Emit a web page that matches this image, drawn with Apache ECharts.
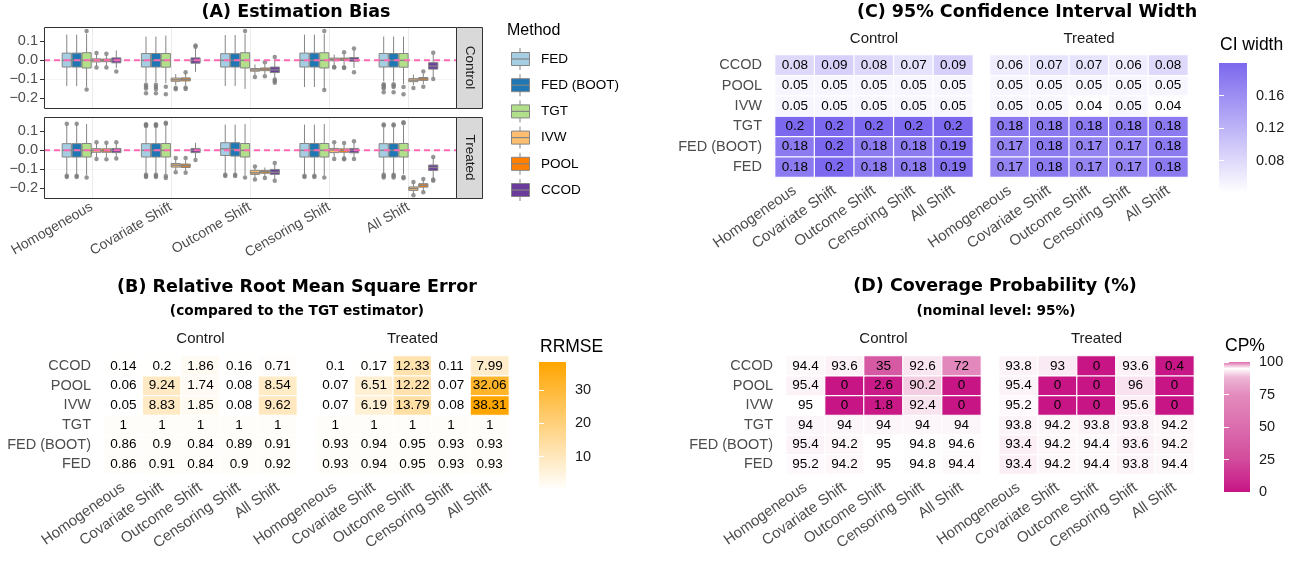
<!DOCTYPE html>
<html><head><meta charset="utf-8">
<script src="https://cdn.jsdelivr.net/npm/echarts@6/dist/echarts.min.js"></script>
<style>html,body{margin:0;padding:0;background:#fff}#c{width:1302px;height:561px}</style>
</head><body><div id="c"></div>
<script>
// ---------------- DATA ----------------
const scenarios = ['Homogeneous','Covariate Shift','Outcome Shift','Censoring Shift','All Shift'];
const methods = ['FED','FED (BOOT)','TGT','IVW','POOL','CCOD'];
const facetNames = ['Control','Treated'];
const biasTicks = [-0.2,-0.1,0,0.1];

// Estimation bias box statistics [whisker low, Q1, median, Q3, whisker high]
// order: scenario by scenario, methods FED, FED (BOOT), TGT, IVW, POOL, CCOD
const biasControl = [
  [-0.135,-0.035,0,0.038,0.135],[-0.135,-0.035,0,0.038,0.135],[-0.14,-0.04,0,0.04,0.14],
  [-0.03,-0.008,0,0.008,0.03],[-0.03,-0.007,0,0.007,0.028],[-0.04,-0.013,0,0.013,0.052],
  [-0.115,-0.035,0,0.036,0.125],[-0.115,-0.035,0,0.036,0.125],[-0.12,-0.036,0,0.036,0.13],
  [-0.13,-0.11,-0.102,-0.093,-0.072],[-0.13,-0.108,-0.1,-0.092,-0.068],[-0.06,-0.015,0,0.013,0.065],
  [-0.135,-0.035,0,0.035,0.133],[-0.135,-0.035,0,0.035,0.133],[-0.15,-0.04,0,0.04,0.14],
  [-0.078,-0.057,-0.05,-0.043,-0.022],[-0.072,-0.054,-0.046,-0.04,-0.02],[-0.092,-0.064,-0.05,-0.035,0.008],
  [-0.14,-0.035,0,0.038,0.135],[-0.14,-0.035,0,0.038,0.135],[-0.15,-0.04,0,0.04,0.14],
  [-0.025,-0.002,0.005,0.012,0.03],[-0.025,-0.001,0.006,0.012,0.035],[-0.04,-0.005,0.005,0.015,0.055],
  [-0.11,-0.035,0,0.036,0.125],[-0.11,-0.035,0,0.036,0.125],[-0.125,-0.036,0,0.036,0.125],
  [-0.13,-0.112,-0.104,-0.096,-0.075],[-0.125,-0.105,-0.097,-0.09,-0.07],[-0.09,-0.046,-0.03,-0.012,0.03]
];
const biasControlOut = [
  [],[],[0.154,-0.153],[0.038,-0.038],[0.034,-0.038],[-0.058],
  [-0.128,-0.137,-0.148,-0.172],[-0.128,-0.14,-0.15,-0.172],[-0.138,-0.178],[-0.144,-0.152],[-0.062,-0.142,-0.15],[0.072,0.078],
  [],[],[0.154],[-0.088],[-0.01,-0.083],[0.018,-0.1,-0.108,-0.118],
  [],[],[0.154,-0.155],[-0.035,-0.038],[0.042,-0.036,-0.04],[0.062,-0.062],
  [-0.125,-0.132,-0.14,-0.148,-0.168],[-0.125,-0.133,-0.14,-0.168],[-0.14,-0.178],[-0.145],[-0.058,-0.138],[0.04,-0.098]
];
const biasTreated = [
  [-0.125,-0.035,0,0.035,0.135],[-0.125,-0.035,0,0.035,0.135],[-0.13,-0.035,0,0.036,0.138],
  [-0.035,-0.01,0,0.009,0.035],[-0.035,-0.01,-0.002,0.008,0.035],[-0.035,-0.012,0,0.01,0.035],
  [-0.12,-0.035,0,0.035,0.12],[-0.12,-0.035,0,0.035,0.12],[-0.125,-0.035,0,0.036,0.13],
  [-0.105,-0.088,-0.078,-0.069,-0.045],[-0.11,-0.09,-0.08,-0.072,-0.05],[-0.04,-0.012,0,0.01,0.04],
  [-0.12,-0.027,0.008,0.04,0.135],[-0.12,-0.03,0.005,0.04,0.135],[-0.13,-0.035,0,0.036,0.138],
  [-0.145,-0.126,-0.118,-0.105,-0.09],[-0.14,-0.12,-0.112,-0.105,-0.09],[-0.15,-0.126,-0.115,-0.1,-0.075],
  [-0.125,-0.035,0,0.036,0.135],[-0.125,-0.035,0,0.036,0.135],[-0.13,-0.035,0,0.036,0.138],
  [-0.035,-0.012,0.002,0.01,0.035],[-0.035,-0.01,0,0.008,0.03],[-0.035,-0.013,0,0.01,0.04],
  [-0.12,-0.035,0,0.035,0.12],[-0.12,-0.035,0,0.035,0.12],[-0.125,-0.035,0,0.036,0.13],
  [-0.23,-0.21,-0.2,-0.192,-0.172],[-0.215,-0.193,-0.183,-0.175,-0.155],[-0.145,-0.106,-0.09,-0.077,-0.04]
];
const biasTreatedOut = [
  [0.14,-0.133,-0.14],[0.14,-0.133,-0.14],[-0.142],[0.043,-0.045],[0.04,-0.047],[0.042,-0.043],
  [0.128,0.133,0.137,-0.128,-0.134,-0.14],[0.128,0.133,0.137,-0.128,-0.134,-0.14],[0.14,0.145,-0.135,-0.145],[-0.04,-0.115],[-0.04,-0.118],[-0.05],
  [-0.128,-0.135],[-0.128,-0.135],[-0.142],[-0.085,-0.153],[-0.145],[-0.067,-0.16],
  [-0.133,-0.14],[-0.133,-0.14],[-0.142],[0.043,-0.045],[0.038,-0.043,-0.047],[0.048,-0.045],
  [0.13,0.135,-0.128,-0.135,-0.143],[0.13,0.135,-0.128,-0.135,-0.143],[0.142,0.148,-0.14,-0.147],[-0.166,-0.236],[-0.15,-0.22],[-0.035,-0.153,-0.16]
];

// Heatmap rows, bottom to top
const heatRows = ['FED','FED (BOOT)','TGT','IVW','POOL','CCOD'];

const rrmseControl = [
  [0.86,0.91,0.84,0.9,0.92],
  [0.86,0.9,0.84,0.89,0.91],
  [1,1,1,1,1],
  [0.05,8.83,1.85,0.08,9.62],
  [0.06,9.24,1.74,0.08,8.54],
  [0.14,0.2,1.86,0.16,0.71]
];
const rrmseTreated = [
  [0.93,0.94,0.95,0.93,0.93],
  [0.93,0.94,0.95,0.93,0.93],
  [1,1,1,1,1],
  [0.07,6.19,13.79,0.08,38.31],
  [0.07,6.51,12.22,0.07,32.06],
  [0.1,0.17,12.33,0.11,7.99]
];
const rrmseTicks = [10,20,30];

const ciControl = [
  [0.18,0.2,0.18,0.18,0.19],
  [0.18,0.2,0.18,0.18,0.19],
  [0.2,0.2,0.2,0.2,0.2],
  [0.05,0.05,0.05,0.05,0.05],
  [0.05,0.05,0.05,0.05,0.05],
  [0.08,0.09,0.08,0.07,0.09]
];
const ciTreated = [
  [0.17,0.18,0.17,0.17,0.18],
  [0.17,0.18,0.17,0.17,0.18],
  [0.18,0.18,0.18,0.18,0.18],
  [0.05,0.05,0.04,0.05,0.04],
  [0.05,0.05,0.05,0.05,0.05],
  [0.06,0.07,0.07,0.06,0.08]
];
const ciTicks = [0.08,0.12,0.16];

const cpControl = [
  [95.2,94.2,95,94.8,94.4],
  [95.4,94.2,95,94.8,94.6],
  [94,94,94,94,94],
  [95,0,1.8,92.4,0],
  [95.4,0,2.6,90.2,0],
  [94.4,93.6,35,92.6,72]
];
const cpTreated = [
  [93.4,94.2,94.4,93.8,94.4],
  [93.4,94.2,94.4,93.6,94.2],
  [93.8,94.2,93.8,93.8,94.2],
  [95.2,0,0,95.6,0],
  [95.4,0,0,96,0],
  [93.8,93,0,93.6,0.4]
];
const cpTicks = [0,25,50,75,100];
const cpLimits = [0,100];

// ---------------- STYLE ----------------
const FONT = '"Liberation Sans", Arial, sans-serif';
const TFONT = '"DejaVu Sans", sans-serif';
const AXC = '#4d4d4d';
const methodColors = ['#A6CEE3','#1F78B4','#B2DF8A','#FDBF6F','#FF7F00','#6A3D9A'];
const BOXSTROKE = '#858585';
const DODGE = 0.125, BOXW = 0.116;

function hex2rgb(h){h=h.replace('#','');return [0,2,4].map(i=>parseInt(h.substr(i,2),16));}
function rgb2hex(c){return '#'+c.map(v=>Math.round(v).toString(16).padStart(2,'0')).join('');}
function rampColor(anchors, v){
  for(let i=0;i<anchors.length-1;i++){
    const [a,ca]=anchors[i],[b,cb]=anchors[i+1];
    if(v<=b){const t=(v-a)/(b-a);const A=hex2rgb(ca),B=hex2rgb(cb);return rgb2hex(A.map((x,k)=>x+(B[k]-x)*t));}
  }
  return anchors[anchors.length-1][1];
}
const cpAnchors = [[0,'#C71585'],[25,'#D24C9C'],[50,'#DB6DAD'],[75,'#E38CBE'],[88,'#EDB6D5'],[95,'#FFFFFF'],[100,'#DD6CAD']];
const cpColors = []; for(let v=cpLimits[0]; v<=cpLimits[1]; v++) cpColors.push(rampColor(cpAnchors, v));

// ---------------- BUILD ----------------
const grids=[], xAxes=[], yAxes=[], series=[], visualMaps=[], graphics=[];
function addGrid(g){grids.push(Object.assign({show:false,containLabel:false},g));return grids.length-1;}
function txt(x,y,text,o){graphics.push({type:'text',x,y,z:50,rotation:o.rot||0,silent:true,style:{text,align:o.align||'center',verticalAlign:'middle',fontSize:o.size,fontWeight:o.weight||'normal',fontFamily:o.font||FONT,fill:o.color||'#000'}});}
const fmtBias = v => Math.abs(v)<1e-9 ? '0.0' : (v<0?'\u2212':'')+Math.abs(v).toFixed(1);

// ---- Panel A ----
const PA = {left:44, width:412, tops:[27,117], h:81};
[[biasControl,biasControlOut],[biasTreated,biasTreatedOut]].forEach(([stats,outs],k)=>{
  const gi = addGrid({left:PA.left, top:PA.tops[k], width:PA.width, height:PA.h});
  const last = k===1;
  const xi = xAxes.push({type:'value',gridIndex:gi,min:0.4,max:5.6,splitLine:{show:false},axisLine:{show:false},
    axisTick: last?{show:true,customValues:[1,2,3,4,5],length:4,lineStyle:{color:'#333'}}:{show:false},
    axisLabel: last?{show:true,customValues:[1,2,3,4,5],formatter:v=>scenarios[Math.round(v)-1],rotate:30,fontSize:14,color:AXC,margin:8}:{show:false}
  })-1;
  const yi = yAxes.push({type:'value',gridIndex:gi,min:-0.25,max:0.175,interval:0.05,axisLine:{show:false},
    splitLine:{show:true,showMinLine:false,showMaxLine:false,lineStyle:{color:['#F4F4F4','#EBEBEB'],width:1}},
    axisTick:{show:true,customValues:biasTicks,length:4,lineStyle:{color:'#333'}},
    axisLabel:{show:true,customValues:biasTicks,formatter:fmtBias,fontSize:14.5,color:AXC,margin:6}
  })-1;
  // vertical grid lines at scenario positions
  series.push({type:'custom',xAxisIndex:xi,yAxisIndex:yi,silent:true,z:1,
    data:scenarios.map((s,i)=>[i+1,0]),
    renderItem:(p,api)=>{const c=api.coord([api.value(0),0]);const cs=p.coordSys;
      return {type:'line',shape:{x1:Math.round(c[0])+0.5,y1:cs.y,x2:Math.round(c[0])+0.5,y2:cs.y+cs.height},style:{stroke:'#EBEBEB',lineWidth:1}};}});
  // boxes
  const boxData = stats.map((r,i)=>{const s=Math.floor(i/methods.length), m=i%methods.length;
    return [s+1+(m-(methods.length-1)/2)*DODGE, r[0],r[1],r[2],r[3],r[4], m];});
  series.push({type:'custom',xAxisIndex:xi,yAxisIndex:yi,silent:true,z:3,data:boxData,
    renderItem:(p,api)=>{
      const x=api.value(0);
      const lo=api.coord([x,api.value(1)]),q1=api.coord([x,api.value(2)]),md=api.coord([x,api.value(3)]),q3=api.coord([x,api.value(4)]),hi=api.coord([x,api.value(5)]);
      const m=api.value(6); const hw=api.size([BOXW,0])[0]/2;
      return {type:'group',children:[
        {type:'line',shape:{x1:hi[0],y1:hi[1],x2:q3[0],y2:q3[1]},style:{stroke:BOXSTROKE,lineWidth:1}},
        {type:'line',shape:{x1:q1[0],y1:q1[1],x2:lo[0],y2:lo[1]},style:{stroke:BOXSTROKE,lineWidth:1}},
        {type:'rect',shape:{x:q3[0]-hw,y:q3[1],width:2*hw,height:Math.max(q1[1]-q3[1],1)},style:{fill:methodColors[m],stroke:BOXSTROKE,lineWidth:1}},
        {type:'line',shape:{x1:md[0]-hw,y1:md[1],x2:md[0]+hw,y2:md[1]},style:{stroke:BOXSTROKE,lineWidth:1.4}}
      ]};
    }});
  // outliers
  const outData=[]; outs.forEach((arr,i)=>{const s=Math.floor(i/methods.length), m=i%methods.length;
    arr.forEach(v=>outData.push([s+1+(m-(methods.length-1)/2)*DODGE, v]));});
  series.push({type:'scatter',xAxisIndex:xi,yAxisIndex:yi,silent:true,z:4,symbol:'circle',symbolSize:4.5,
    itemStyle:{color:'#7a7a7a'},data:outData});
  // zero reference line
  series.push({type:'custom',xAxisIndex:xi,yAxisIndex:yi,silent:true,z:5,data:[[3,0]],
    renderItem:(p,api)=>{const c=api.coord([api.value(0),api.value(1)]);const cs=p.coordSys;
      return {type:'line',shape:{x1:cs.x,y1:c[1],x2:cs.x+cs.width,y2:c[1]},style:{stroke:'#FF69B4',lineWidth:2,lineDash:[6,4]}};}});
  // frame + strip
  graphics.push({type:'rect',z:40,silent:true,shape:{x:PA.left+0.5,y:PA.tops[k]+0.5,width:PA.width,height:PA.h},style:{fill:'none',stroke:'#333',lineWidth:1}});
  graphics.push({type:'rect',z:40,silent:true,shape:{x:PA.left+PA.width+0.5,y:PA.tops[k]+0.5,width:26,height:PA.h},style:{fill:'#D9D9D9',stroke:'#333',lineWidth:1}});
  txt(PA.left+PA.width+14, PA.tops[k]+PA.h/2, facetNames[k], {size:13.5, rot:-Math.PI/2, color:'#1a1a1a'});
});
txt(296,12,'(A) Estimation Bias',{size:17.5,weight:'bold',font:TFONT});
// method legend
txt(507,31,'Method',{size:16,align:'left'});
methods.forEach((m,i)=>{
  const cy = 59+i*26.2;
  graphics.push({type:'line',z:40,silent:true,shape:{x1:520,y1:cy-11,x2:520,y2:cy+11},style:{stroke:BOXSTROKE,lineWidth:1}});
  graphics.push({type:'rect',z:41,silent:true,shape:{x:511.5,y:cy-6.5,width:18,height:13},style:{fill:methodColors[i],stroke:BOXSTROKE,lineWidth:1}});
  graphics.push({type:'line',z:42,silent:true,shape:{x1:511.5,y1:cy,x2:529.5,y2:cy},style:{stroke:BOXSTROKE,lineWidth:1.2}});
  txt(541,cy,m,{size:13.5,align:'left'});
});

// ---- heatmap panels ----
function heatPanel(cfg){
  const idx=[];
  [cfg.control,cfg.treated].forEach((vals,k)=>{
    const gi=addGrid({left:cfg.lefts[k],top:cfg.top,width:cfg.width,height:cfg.height});
    const xi=xAxes.push({type:'category',gridIndex:gi,data:scenarios,axisLine:{show:false},axisTick:{show:false},splitLine:{show:false},
      axisLabel:{rotate:35,fontSize:15,color:AXC,margin:12,interval:0}})-1;
    const yi=yAxes.push({type:'category',gridIndex:gi,data:heatRows,axisLine:{show:false},axisTick:{show:false},splitLine:{show:false},
      axisLabel:{show:k===0,fontSize:14.5,color:AXC,margin:13,interval:0}})-1;
    const data=[]; vals.forEach((row,r)=>row.forEach((v,c)=>data.push([c,r,v])));
    idx.push(series.push({type:'heatmap',xAxisIndex:xi,yAxisIndex:yi,data,silent:true,emphasis:{disabled:true},
      itemStyle:{borderColor:'#fff',borderWidth:1.2},
      label:{show:true,formatter:p=>String(p.value[2]),fontSize:13.5,color:'#000',fontFamily:FONT}})-1);
    txt(cfg.lefts[k]+cfg.width/2, cfg.stripY, facetNames[k], {size:15, color:'#1a1a1a'});
  });
  visualMaps.push({type:'continuous',show:false,seriesIndex:idx,dimension:2,min:cfg.min,max:cfg.max,inRange:{color:cfg.colors}});
  // color bar legend
  const b=cfg.bar;
  const gi=addGrid({left:b.left,top:b.top,width:b.width,height:b.height});
  const xi=xAxes.push({type:'value',gridIndex:gi,min:0,max:1,show:false})-1;
  const tick={show:true,inside:true,length:5,customValues:cfg.ticks,lineStyle:{color:'#fff',width:1}};
  const yR=yAxes.push({type:'value',gridIndex:gi,min:cfg.min,max:cfg.max,position:'right',z:10,axisLine:{show:false},splitLine:{show:false},
    axisTick:tick,axisLabel:{show:true,customValues:cfg.ticks,formatter:cfg.fmt,fontSize:14.5,color:'#1a1a1a',margin:9}})-1;
  yAxes.push({type:'value',gridIndex:gi,min:cfg.min,max:cfg.max,position:'left',z:10,axisLine:{show:false},splitLine:{show:false},
    axisTick:tick,axisLabel:{show:false}});
  const stops=cfg.stops;
  series.push({type:'custom',xAxisIndex:xi,yAxisIndex:yR,silent:true,z:1,data:[[0,cfg.min,cfg.max]],
    renderItem:(p,api)=>{const t=api.coord([0,api.value(2)]),bt=api.coord([1,api.value(1)]);
      return {type:'rect',shape:{x:t[0],y:t[1],width:bt[0]-t[0],height:bt[1]-t[1]},
        style:{fill:new echarts.graphic.LinearGradient(0,1,0,0,stops)}};}});
  txt(b.left+1,b.titleY,cfg.legendTitle,{size:17.5,align:'left'});
}
const flat=a=>a.flat();
const rrAll=flat(rrmseControl).concat(flat(rrmseTreated));
const ciAll=flat(ciControl).concat(flat(ciTreated));

heatPanel({control:rrmseControl,treated:rrmseTreated,lefts:[104,316],width:193,top:356,height:118,stripY:339,
  min:Math.min(...rrAll),max:Math.max(...rrAll),colors:['#FFFFFF','#FFA500'],stops:[{offset:0,color:'#FFFFFF'},{offset:1,color:'#FFA500'}],
  ticks:rrmseTicks,fmt:v=>String(v),legendTitle:'RRMSE',bar:{left:539,top:362,width:27,height:128,titleY:347}});
heatPanel({control:ciControl,treated:ciTreated,lefts:[775,990],width:198,top:55,height:122,stripY:39,
  min:Math.min(...ciAll),max:Math.max(...ciAll),colors:['#FFFFFF','#7B68EE'],stops:[{offset:0,color:'#FFFFFF'},{offset:1,color:'#7B68EE'}],
  ticks:ciTicks,fmt:v=>v.toFixed(2),legendTitle:'CI width',bar:{left:1219,top:63,width:28,height:130,titleY:45}});
heatPanel({control:cpControl,treated:cpTreated,lefts:[786,999],width:195,top:356,height:118,stripY:339,
  min:cpLimits[0],max:cpLimits[1],colors:cpColors,stops:cpAnchors.map(([v,c])=>({offset:(v-cpLimits[0])/(cpLimits[1]-cpLimits[0]),color:c})),
  ticks:cpTicks,fmt:v=>String(v),legendTitle:'CP%',bar:{left:1224,top:362,width:26,height:130,titleY:346}});

txt(297,287,'(B) Relative Root Mean Square Error',{size:17.5,weight:'bold',font:TFONT});
txt(297,311,'(compared to the TGT estimator)',{size:13.7,weight:'bold',font:TFONT});
txt(1027,12,'(C) 95% Confidence Interval Width',{size:17.5,weight:'bold',font:TFONT});
txt(995,286,'(D) Coverage Probability (%)',{size:17.5,weight:'bold',font:TFONT});
txt(996,311,'(nominal level: 95%)',{size:13.7,weight:'bold',font:TFONT});

const chart=echarts.init(document.getElementById('c'));
chart.setOption({animation:false,backgroundColor:'#fff',textStyle:{fontFamily:FONT},
  grid:grids,xAxis:xAxes,yAxis:yAxes,visualMap:visualMaps,series,graphic:graphics});
</script></body></html>
